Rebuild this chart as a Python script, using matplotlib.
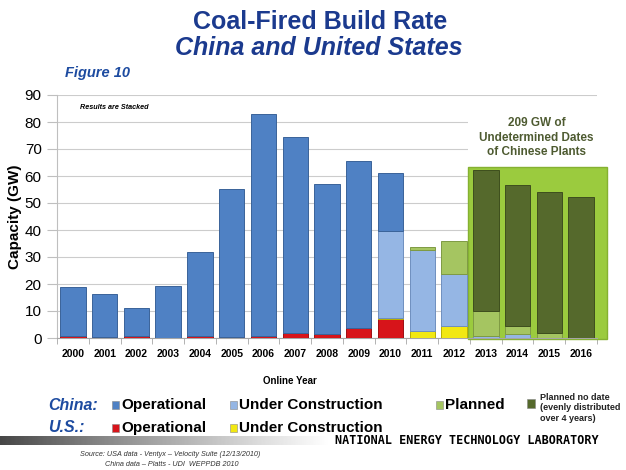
import numpy as np
import matplotlib
matplotlib.use("Agg")
from matplotlib import pyplot as plt
from matplotlib.patches import Rectangle

plt.rcParams["font.family"] = ["Liberation Sans", "DejaVu Sans"]

years = [str(y) for y in range(2000, 2017)]
us_operational = [0.7, 0.2, 0.6, 0.0, 0.8, 0.3, 0.6, 1.8, 1.6, 3.6, 6.9, 0, 0, 0, 0, 0, 0]
us_construction = [0, 0, 0, 0, 0, 0, 0, 0, 0, 0, 0.6, 2.7, 4.6, 0, 0, 0, 0]
china_construction = [0, 0, 0, 0, 0, 0, 0, 0, 0, 0, 32.1, 29.9, 19.0, 0.8, 1.5, 0, 0]
china_planned = [0, 0, 0, 0, 0, 0, 0, 0, 0, 0, 0, 1.1, 12.3, 9.2, 3.1, 2.0, 0]
china_operational = [18.1, 16.0, 10.4, 19.3, 30.9, 54.8, 82.2, 72.8, 55.3, 62.1, 21.5,
                     0, 0, 0, 0, 0, 0]
china_no_date = [0, 0, 0, 0, 0, 0, 0, 0, 0, 0, 0, 0, 0, 52.25, 52.25, 52.25, 52.25]

# stacking order, bottom to top
series = [
    (us_operational, "#D7141A", "#9E0E12"),
    (us_construction, "#F2E812", "#B8AE00"),
    (china_construction, "#95B6E4", "#6F8FBF"),
    (china_planned, "#A5C561", "#7E9A43"),
    (china_operational, "#4F81C4", "#3A6399"),
    (china_no_date, "#55692C", "#3E4E1E"),
]

W, H = 626, 470


def fx(px):
    return px / W


def fy(py):
    return 1 - py / H


fig = plt.figure(figsize=(W / 100, H / 100), dpi=100)
ax = fig.add_axes([fx(57), fy(338), 540 / W, 243 / H])

x = np.arange(len(years))
bottom = np.zeros(len(years))
for vals, color, edge in series:
    v = np.array(vals, dtype=float)
    m = v > 0
    ax.bar(x[m], v[m], 0.8, bottom=bottom[m], color=color, edgecolor=edge,
           linewidth=0.7, zorder=3)
    bottom += v

# green box for undated Chinese plants, white panel behind its caption
ax.add_patch(Rectangle((12.44, -0.4), 4.38, 63.7, facecolor="#9BCB3E",
                       edgecolor="#85B131", linewidth=1, zorder=2, clip_on=False))
ax.add_patch(Rectangle((12.44, 63.5), 4.38, 21.5, facecolor="white",
                       edgecolor="none", zorder=1, clip_on=False))
ax.text(14.6, 74.2, "209 GW of\nUndetermined Dates\nof Chinese Plants", ha="center",
        va="center", fontsize=8.5, fontweight="bold", color="#4E5B31", linespacing=1.3,
        zorder=4)
ax.text(0.22, 85.2, "Results are Stacked", fontsize=5.2, fontweight="bold",
        fontstyle="italic", va="center", zorder=4)

ax.set_xlim(-0.5, 16.5)
ax.set_ylim(0, 90)
ax.set_yticks(range(0, 91, 10))
ax.set_xticks(x)
ax.set_xticklabels(years, fontsize=7.5, fontweight="bold")
ax.set_xticks(np.arange(-0.5, 17, 1), minor=True)
ax.tick_params(axis="x", which="major", length=0, pad=8)
ax.tick_params(axis="x", which="minor", length=4, color="#A6A6A6")
ax.tick_params(axis="y", labelsize=11, length=7, color="#BFBFBF", pad=4)
ax.set_axisbelow(True)
ax.grid(axis="y", color="#CCCCCC", linewidth=0.8)
for s in ["top", "right"]:
    ax.spines[s].set_visible(False)
ax.spines["left"].set_color("#BFBFBF")
ax.spines["bottom"].set_color("#A6A6A6")
ax.set_ylabel("Capacity (GW)", fontsize=11, fontweight="bold", labelpad=2)

# titles
fig.text(fx(320), fy(22), "Coal-Fired Build Rate", ha="center", va="center",
         fontsize=18, fontweight="bold", color="#1B3A8E")
fig.text(fx(319), fy(48), "China and United States", ha="center", va="center",
         fontsize=18, fontweight="bold", fontstyle="italic", color="#1B3A8E")
fig.text(fx(65), fy(73), "Figure 10", ha="left", va="center", fontsize=10.5,
         fontweight="bold", fontstyle="italic", color="#1D4BA0")
fig.text(fx(290), fy(381), "Online Year", ha="center", va="center", fontsize=7,
         fontweight="bold")

# legend
fig.text(fx(48), fy(405), "China:", va="center", fontsize=11.5, fontweight="bold",
         fontstyle="italic", color="#1D4BA0")
fig.text(fx(48), fy(428), "U.S.:", va="center", fontsize=11.5, fontweight="bold",
         fontstyle="italic", color="#1D4BA0")
legend_items = [
    (112, 405, "#4F81C4", "Operational"),
    (230, 405, "#95B6E4", "Under Construction"),
    (436, 405, "#A5C561", "Planned"),
    (112, 428, "#D7141A", "Operational"),
    (230, 428, "#F2E812", "Under Construction"),
]
for px, py, col, label in legend_items:
    fig.add_artist(Rectangle((fx(px), fy(py + 4)), 7 / W, 8 / H, transform=fig.transFigure,
                             facecolor=col, edgecolor="#888888", linewidth=0.4))
    fig.text(fx(px + 9), fy(py), label, va="center", fontsize=11, fontweight="bold")
fig.add_artist(Rectangle((fx(527), fy(408)), 8 / W, 9 / H, transform=fig.transFigure,
                         facecolor="#55692C", edgecolor="#888888", linewidth=0.4))
fig.text(fx(540), fy(408), "Planned no date\n(evenly distributed\nover 4 years)",
         va="center", fontsize=6.5, fontweight="bold", color="#222222", linespacing=1.2)

# footer band
band = fig.add_axes([0, fy(445), 330 / W, 9 / H])
band.imshow(np.linspace(0.2, 1.0, 256)[None, :] ** 0.8, aspect="auto", cmap="gray",
            vmin=0, vmax=1)
band.axis("off")
fig.text(fx(335), fy(440), "NATIONAL ENERGY TECHNOLOGY LABORATORY", va="center",
         fontsize=8.5, fontweight="bold", family="DejaVu Sans Mono")
fig.text(fx(80), fy(454), "Source: USA data - Ventyx \u2013 Velocity Suite (12/13/2010)",
         fontsize=5.2, fontstyle="italic", va="center", color="#333333")
fig.text(fx(105), fy(465), "China data \u2013 Platts - UDI  WEPPDB 2010",
         fontsize=5.2, fontstyle="italic", va="center", color="#333333")

fig.savefig("out.png", dpi=100)
